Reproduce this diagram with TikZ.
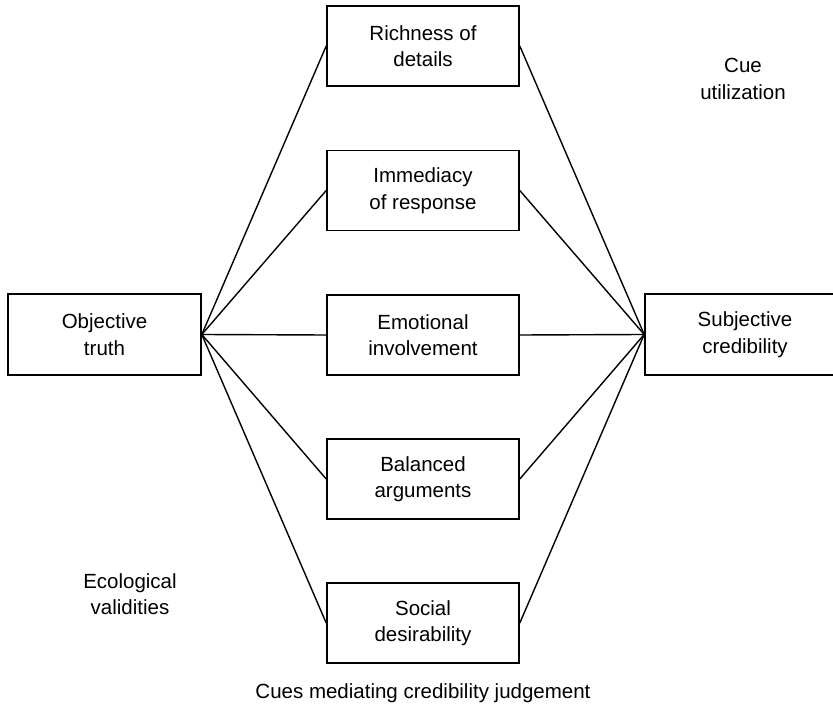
\documentclass[tikz,border=0pt]{standalone}
\usepackage{fontspec}
\setmainfont{Liberation Sans}
\begin{document}
\begin{tikzpicture}[x=1pt,y=-1pt,
  every node/.style={font=\fontsize{20.5}{26.5}\selectfont, align=center, inner sep=0pt},
  cuebox/.style={draw, line width=1.6pt, rectangle, minimum width=192pt, minimum height=80pt},
  endbox/.style={draw, line width=1.6pt, rectangle, minimum width=193pt, minimum height=81pt},
  link/.style={line width=1.4pt}]
  \useasboundingbox (0,0) rectangle (833,708);
  \fill[white] (0,0) rectangle (833,708);

  % end points of the lens model
  \node[endbox] (truth) at (104.5,334.5) {Objective\\truth};
  \node[endbox, minimum width=200pt] (cred) at (745,334.5) {Subjective\\credibility};

  % mediating cues
  \node[cuebox] (c1) at (423,46) {Richness of\\details};
  \node[cuebox] (c2) at (423,190.5) {Immediacy\\of response};
  \node[cuebox] (c3) at (423,335) {Emotional\\involvement};
  \node[cuebox] (c4) at (423,479) {Balanced\\arguments};
  \node[cuebox] (c5) at (423,623) {Social\\desirability};

  % labels
  \node (util) at (743,79) {Cue\\utilization};
  \node (eco) at (130,594) {Ecological\\validities};
  \node (cap) at (423,693) {Cues mediating credibility judgement};

  % connectors
  \foreach \c in {c1,c2,c3,c4,c5} {
    \draw[link] (truth.east) -- (\c.west);
    \draw[link] (\c.east) -- (cred.west);
  }
\end{tikzpicture}
\end{document}
